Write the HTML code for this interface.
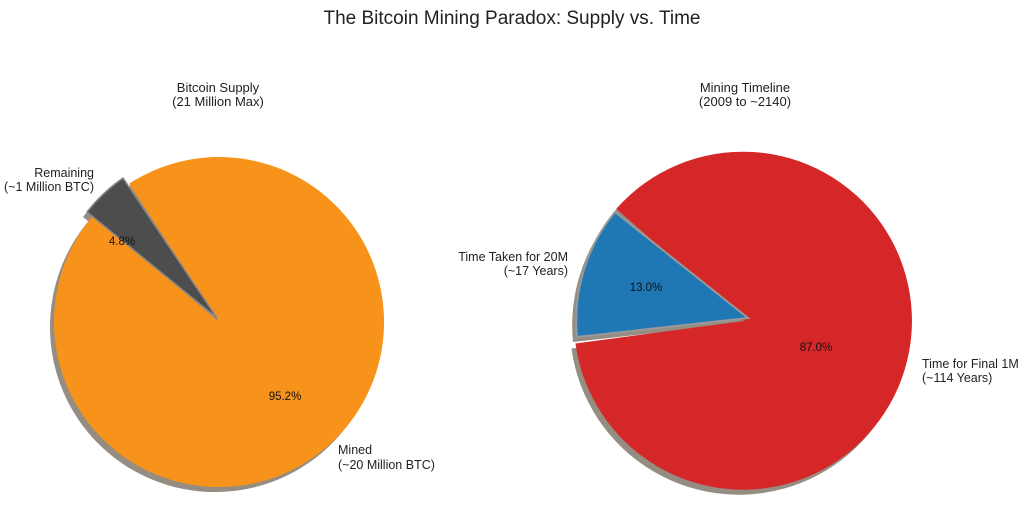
<!DOCTYPE html>
<html><head><meta charset="utf-8"><style>
body{margin:0;background:#fff;}
svg{display:block;font-family:"Liberation Sans",sans-serif;}
</style></head><body>
<svg width="1024" height="530" viewBox="0 0 1024 530" xmlns="http://www.w3.org/2000/svg">
<rect width="1024" height="530" fill="#fff"/>
<text x="512" y="24" font-size="19" text-anchor="middle" fill="#222">The Bitcoin Mining Paradox: Supply vs. Time</text>
<text x="218" y="92" font-size="13" text-anchor="middle" fill="#222">Bitcoin Supply</text>
<text x="218" y="106" font-size="13" text-anchor="middle" fill="#222">(21 Million Max)</text>
<text x="745" y="92" font-size="13" text-anchor="middle" fill="#222">Mining Timeline</text>
<text x="745" y="106" font-size="13" text-anchor="middle" fill="#222">(2009 to ~2140)</text>

<g transform="translate(-4,5)" fill="#958c82">
<path d="M219,322 L129.1,183.7 A165,165 0 1,1 93.8,214.6 Z"/>
<path d="M217,318 L123,178 A168,168 0 0,0 87,212 Z"/>
</g>
<path d="M219,322 L129.1,183.7 A165,165 0 1,1 93.8,214.6 Z" fill="#f7931a"/>
<path d="M217,318 L123,178 A168,168 0 0,0 87,212 Z" fill="#4d4d4d" stroke="#888" stroke-width="1.5"/>

<g transform="translate(-4,5)" fill="#958c82">
<path d="M744,321 L616.3,208.8 A169,169 0 1,1 575.5,343.5 Z"/>
<path d="M748,318 L615,212 A171,171 0 0,0 577,337 Z"/>
</g>
<path d="M744,321 L616.3,208.8 A169,169 0 1,1 575.5,343.5 Z" fill="#d62728"/>
<path d="M748,318 L615,212 A171,171 0 0,0 577,337 Z" fill="#1f77b4" stroke="#999" stroke-width="2"/>

<g font-size="11.5" fill="#111">
<text x="122" y="245" text-anchor="middle">4.8%</text>
<text x="285" y="400" text-anchor="middle">95.2%</text>
<text x="646" y="291" text-anchor="middle">13.0%</text>
<text x="816" y="351" text-anchor="middle">87.0%</text>
</g>
<g font-size="12.5" fill="#222">
<text x="94" y="177" text-anchor="end">Remaining</text>
<text x="94" y="191" text-anchor="end">(~1 Million BTC)</text>
<text x="338" y="454">Mined</text>
<text x="338" y="469">(~20 Million BTC)</text>
<text x="568" y="261" text-anchor="end">Time Taken for 20M</text>
<text x="568" y="275" text-anchor="end">(~17 Years)</text>
<text x="922" y="368">Time for Final 1M</text>
<text x="922" y="382">(~114 Years)</text>
</g>
</svg>
</body></html>
